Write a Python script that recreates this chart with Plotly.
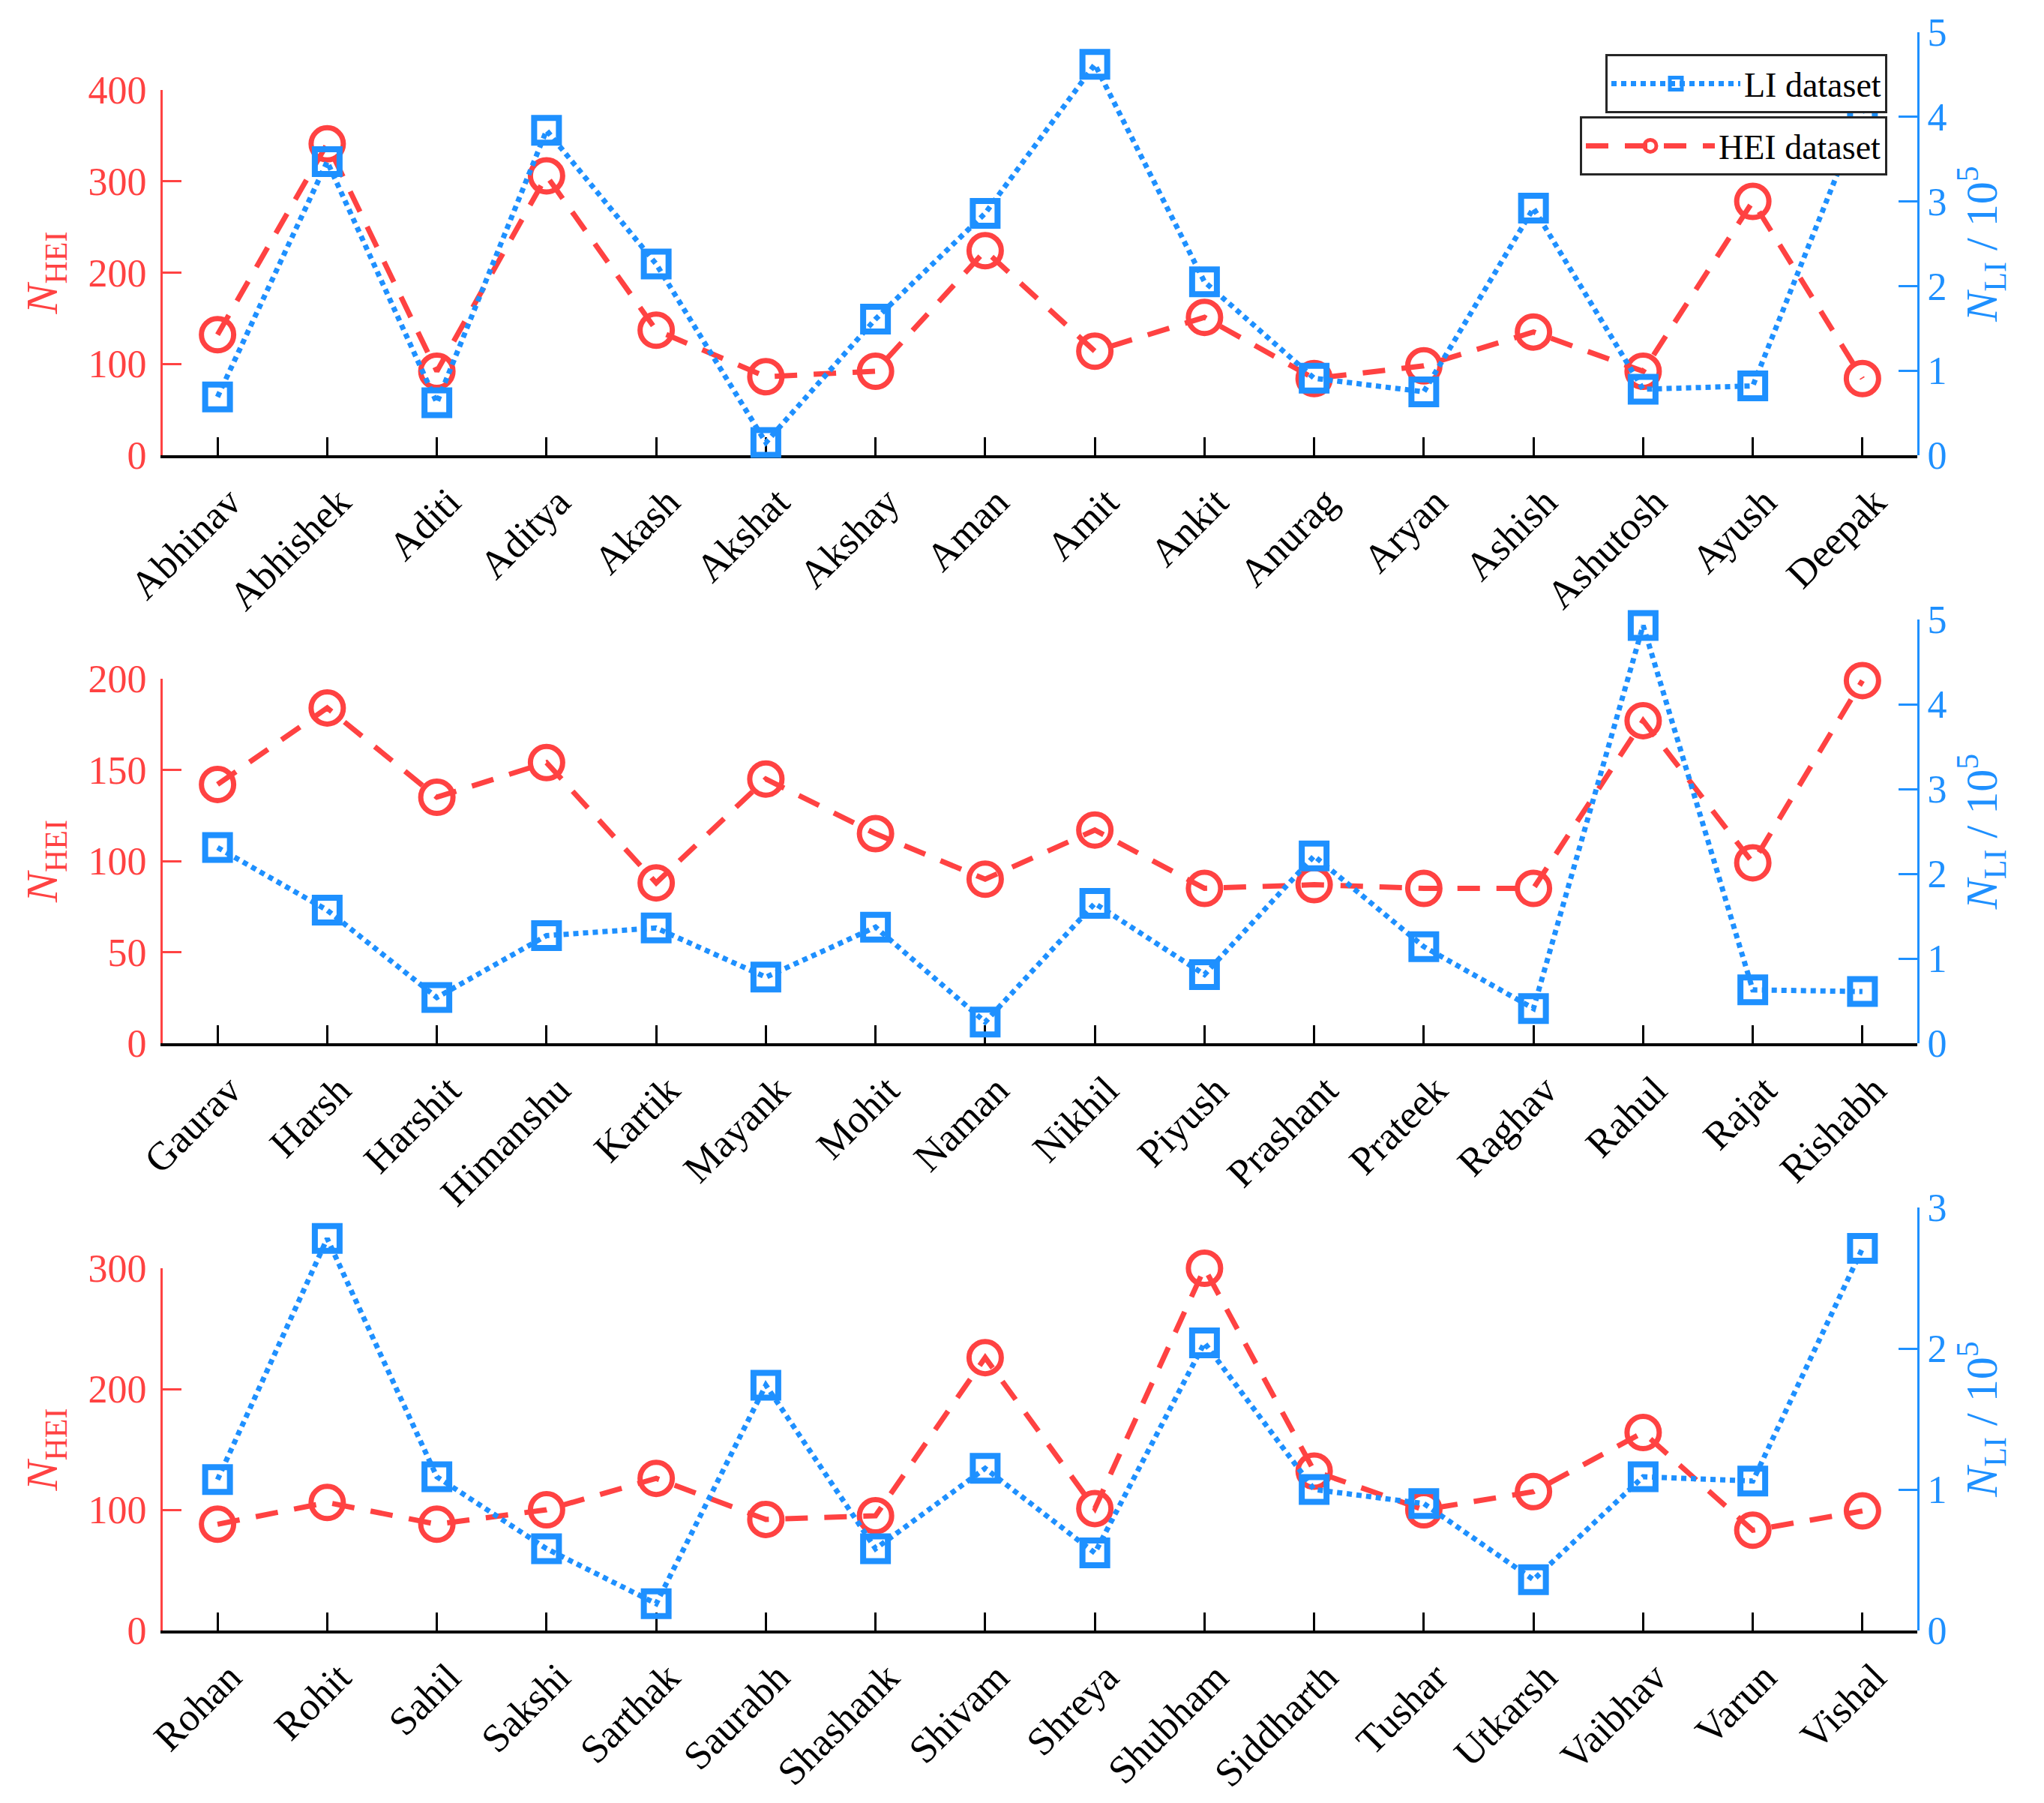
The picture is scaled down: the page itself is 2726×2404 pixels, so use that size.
import plotly.graph_objects as go

# ---------------- data ----------------
names_top = ["Abhinav", "Abhishek", "Aditi", "Aditya", "Akash", "Akshat", "Akshay", "Aman",
             "Amit", "Ankit", "Anurag", "Aryan", "Ashish", "Ashutosh", "Ayush", "Deepak"]
hei_top = [132, 341, 92, 306, 137, 86, 92, 224, 114, 151, 84, 98, 135, 92, 278, 84]
li_top = [0.69, 3.47, 0.62, 3.84, 2.26, 0.15, 1.61, 2.86, 4.62, 2.05, 0.91, 0.75, 2.92, 0.78, 0.82, 4.07]

names_mid = ["Gaurav", "Harsh", "Harshit", "Himanshu", "Kartik", "Mayank", "Mohit", "Naman",
             "Nikhil", "Piyush", "Prashant", "Prateek", "Raghav", "Rahul", "Rajat", "Rishabh"]
hei_mid = [142, 184, 135, 154, 88, 145, 115, 90, 117, 85, 87, 85, 85, 177, 99, 199]
li_mid = [2.31, 1.57, 0.54, 1.27, 1.36, 0.78, 1.37, 0.25, 1.65, 0.81, 2.21, 1.14, 0.41, 4.93, 0.63, 0.61]

names_bot = ["Rohan", "Rohit", "Sahil", "Sakshi", "Sarthak", "Saurabh", "Shashank", "Shivam",
             "Shreya", "Shubham", "Siddharth", "Tushar", "Utkarsh", "Vaibhav", "Varun", "Vishal"]
hei_bot = [88, 106, 88, 100, 126, 92, 95, 226, 101, 300, 132, 100, 115, 164, 83, 99]
li_bot = [1.07, 2.78, 1.09, 0.58, 0.19, 1.74, 0.58, 1.15, 0.55, 2.04, 1.00, 0.90, 0.36, 1.09, 1.06, 2.71]

hei_ticks = [[0, 100, 200, 300, 400], [0, 50, 100, 150, 200], [0, 100, 200, 300]]
li_ticks = [[0, 1, 2, 3, 4, 5], [0, 1, 2, 3, 4, 5], [0, 1, 2, 3]]

# ---------------- style ----------------
W, H = 2726, 2404
OFF = 8  # page body margin compensation
RED = "#FF4242"
BLUE = "#1E90FF"
FONT = "Liberation Serif"
YTICK_FS = 52
XTICK_FS = 53

xdom = [(217 - OFF) / W, (2557 - OFF) / W]
# (bottom, top of left axis, top of right axis) in pixels
rows = [(607, 120, 43), (1391, 905, 826), (2174, 1691, 1610)]

panels = [(names_top, hei_top, li_top), (names_mid, hei_mid, li_mid), (names_bot, hei_bot, li_bot)]


def yfrac(py):
    return 1 - (py - OFF) / H


fig = go.Figure()
layout = dict(
    width=W, height=H, autosize=False,
    margin=dict(l=0, r=0, t=0, b=0, pad=0),
    paper_bgcolor="white", plot_bgcolor="rgba(0,0,0,0)",
    font=dict(family=FONT, size=YTICK_FS, color="black"),
    showlegend=True,
)

left_title = "<i>N</i><sub>HEI</sub>"
right_title = "<i>N</i><sub>LI</sub> / 10<sup>5</sup>"

for i, (names, hei, li) in enumerate(panels):
    k = i + 1
    xa = "x" if k == 1 else f"x{k}"
    ya_l = 2 * i + 1
    ya_r = 2 * i + 2
    yl = "y" if ya_l == 1 else f"y{ya_l}"
    yr = f"y{ya_r}"
    bot, ltop, rtop = rows[i]
    xs = list(range(len(names)))

    fig.add_trace(go.Scatter(
        x=xs, y=hei, xaxis=xa, yaxis=yl, name="HEI dataset",
        mode="lines+markers", cliponaxis=False,
        line=dict(color=RED, width=7, dash="30px,22px"),
        marker=dict(symbol="circle-open", size=43, color=RED, line=dict(color=RED, width=7)),
        showlegend=(i == 0), legend="legend2",
    ))
    fig.add_trace(go.Scatter(
        x=xs, y=li, xaxis=xa, yaxis=yr, name="LI dataset",
        mode="lines+markers", cliponaxis=False,
        line=dict(color=BLUE, width=7, dash="7px,6px"),
        marker=dict(symbol="square-open", size=33, color=BLUE, line=dict(color=BLUE, width=8)),
        showlegend=(i == 0), legend="legend",
    ))

    xkey = "xaxis" if k == 1 else f"xaxis{k}"
    layout[xkey] = dict(
        domain=xdom, anchor=yl, range=[-0.5, len(names) - 0.5], automargin=False,
        tickmode="array", tickvals=xs, ticktext=names, tickangle=-45,
        ticks="inside", ticklen=24, tickwidth=3, tickcolor="black",
        showline=True, linecolor="black", linewidth=4,
        showgrid=False, zeroline=False, ticklabelstandoff=6, ticklabelshift=16,
        tickfont=dict(family=FONT, size=XTICK_FS, color="black"),
    )
    ylkey = "yaxis" if ya_l == 1 else f"yaxis{ya_l}"
    layout[ylkey] = dict(
        domain=[yfrac(bot), yfrac(ltop)], anchor=xa, side="left", automargin=False,
        range=[0, hei_ticks[i][-1]], tickmode="array", tickvals=hei_ticks[i],
        ticks="inside", ticklen=25, tickwidth=3, tickcolor=RED,
        showline=True, linecolor=RED, linewidth=3,
        showgrid=False, zeroline=False, ticklabelstandoff=8,
        tickfont=dict(family=FONT, size=YTICK_FS, color=RED),
        title=dict(text=left_title, font=dict(family=FONT, size=60, color=RED), standoff=22),
    )
    layout[f"yaxis{ya_r}"] = dict(
        domain=[yfrac(bot), yfrac(rtop)], anchor=xa, side="right", automargin=False,
        range=[0, li_ticks[i][-1]], tickmode="array", tickvals=li_ticks[i],
        ticks="inside", ticklen=25, tickwidth=3, tickcolor=BLUE,
        showline=True, linecolor=BLUE, linewidth=3,
        showgrid=False, zeroline=False, ticklabelstandoff=0,
        tickfont=dict(family=FONT, size=YTICK_FS, color=BLUE),
        title=dict(text=right_title, font=dict(family=FONT, size=60, color=BLUE), standoff=26),
    )

legend_common = dict(
    xanchor="right", yanchor="top", bgcolor="white",
    bordercolor="#262626", borderwidth=3,
    font=dict(family=FONT, size=46, color="black"),
    itemwidth=172, itemsizing="trace",
)
layout["legend"] = dict(x=(2517 - OFF) / W, y=yfrac(72), **legend_common)
layout["legend2"] = dict(x=(2517 - OFF) / W, y=yfrac(155), **legend_common)

fig.update_layout(**layout)
fig.write_html("out.html")
